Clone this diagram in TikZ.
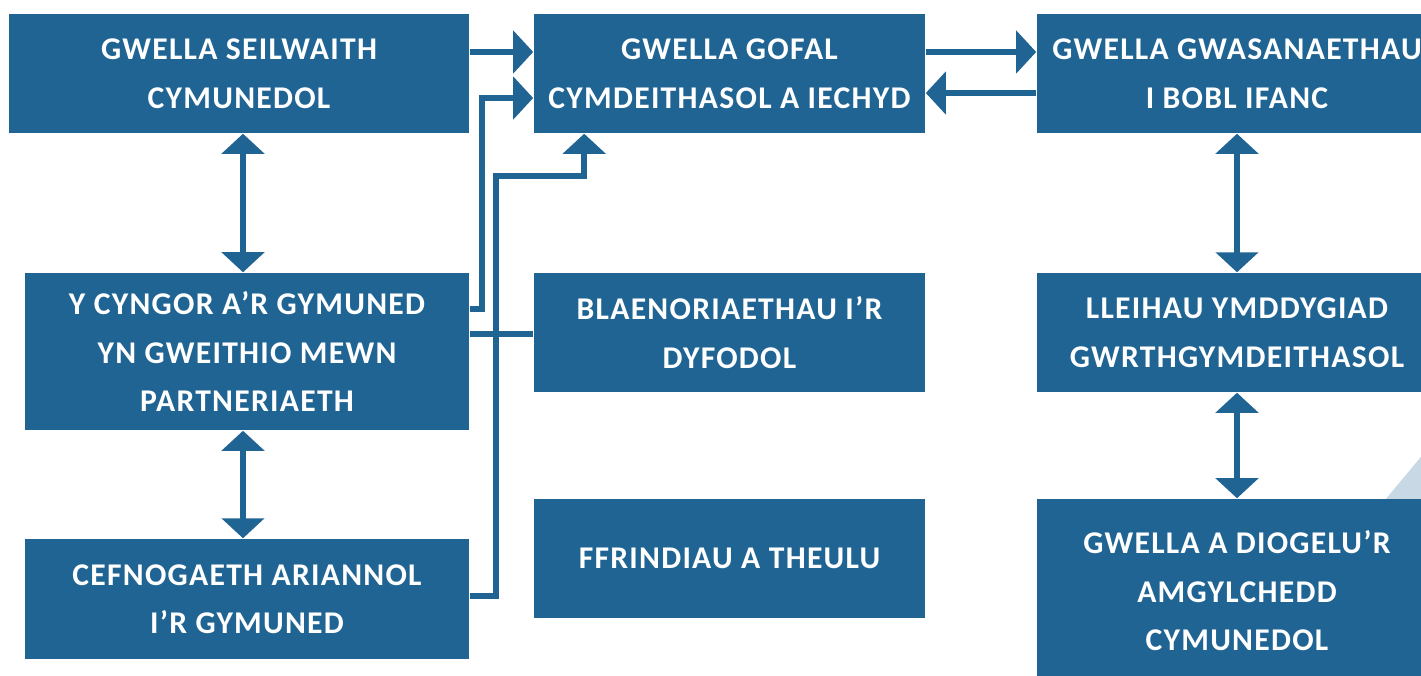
\documentclass[tikz,border=0pt]{standalone}
\usepackage{fontspec}
\newfontfamily\boxfont{Carlito}[LetterSpace=4]
\usetikzlibrary{arrows.meta, calc}
\definecolor{boxblue}{RGB}{31,100,147}
\definecolor{paleblue}{RGB}{200,216,228}

\begin{document}
\begin{tikzpicture}[x=0.01cm, y=-0.01cm,
    box/.style={fill=boxblue, text=white, align=center, inner sep=0pt,
        font=\boxfont\bfseries\fontsize{9}{13.8}\selectfont},
    link/.style={draw=boxblue, line width=0.06cm},
    tip/.style={-{Triangle[length=0.2cm, width=0.42cm]}},
    tips/.style={{Triangle[length=0.2cm, width=0.42cm]}-{Triangle[length=0.2cm, width=0.42cm]}}]
    \clip (0,0) rectangle (1421,675);
    \fill [paleblue] (1385,500) -- (1430,446) -- (1430,500) -- cycle;

    % top row
    \node [box, minimum width=4.6cm, minimum height=1.19cm] (seilwaith) at (239,73.5) {GWELLA SEILWAITH\\CYMUNEDOL};
    \node [box, minimum width=3.91cm, minimum height=1.19cm] (gofal) at (729.5,73.5) {GWELLA GOFAL\\CYMDEITHASOL A IECHYD};
    \node [box, minimum width=4cm, minimum height=1.19cm] (ifanc) at (1237,73.5) {GWELLA GWASANAETHAU\\I BOBL IFANC};
    % middle row
    \node [box, minimum width=4.44cm, minimum height=1.57cm] (cyngor) at (247,351.5) {Y CYNGOR A’R GYMUNED\\YN GWEITHIO MEWN\\PARTNERIAETH};
    \node [box, minimum width=3.91cm, minimum height=1.19cm] (dyfodol) at (729.5,332.5) {BLAENORIAETHAU I’R\\DYFODOL};
    \node [box, minimum width=4cm, minimum height=1.19cm] (ymddygiad) at (1237,332.5) {LLEIHAU YMDDYGIAD\\GWRTHGYMDEITHASOL};
    % bottom row
    \node [box, minimum width=4.44cm, minimum height=1.2cm] (ariannol) at (247,599) {CEFNOGAETH ARIANNOL\\I’R GYMUNED};
    \node [box, minimum width=3.91cm, minimum height=1.19cm] (teulu) at (729.5,558.5) {FFRINDIAU A THEULU};
    \node [box, minimum width=4cm, minimum height=1.84cm] (amgylchedd) at (1237,591) {GWELLA A DIOGELU’R\\AMGYLCHEDD\\CYMUNEDOL};

    % arrows into gofal
    \draw [link, tip] ([yshift=0.215cm]seilwaith.east) -- ([yshift=0.215cm]gofal.west);
    \draw [link, tip] ([yshift=0.425cm]cyngor.east) -- ++(12,0) |- ([yshift=-0.245cm]gofal.west);
    \draw [link, tip] ([yshift=0.03cm]ariannol.east) -- ++(26,0) |- ($(gofal.south west)+(51,42)$) -- ($(gofal.south west)+(51,0)$);
    \draw [link] ([yshift=0.175cm]cyngor.east) -- ([yshift=0.175cm]cyngor.east -| dyfodol.west);
    \draw [link, tip] ([yshift=0.215cm]gofal.east) -- ([yshift=0.215cm]ifanc.west);
    \draw [link, tip] ([yshift=-0.195cm]ifanc.west) -- ([yshift=-0.195cm]gofal.east);

    % vertical links
    \draw [link, tips] ([xshift=0.04cm]seilwaith.south) -- ([xshift=0.04cm]seilwaith.south |- cyngor.north);
    \draw [link, tips] ([xshift=-0.04cm]cyngor.south) -- ([xshift=-0.04cm]cyngor.south |- ariannol.north);
    \draw [link, tips] (ifanc.south) -- (ymddygiad.north);
    \draw [link, tips] (ymddygiad.south) -- (amgylchedd.north);
\end{tikzpicture}
\end{document}
